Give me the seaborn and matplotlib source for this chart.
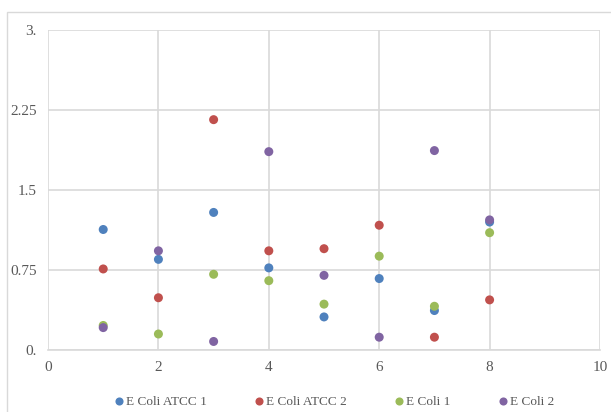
import matplotlib
matplotlib.use("Agg")
import matplotlib.pyplot as plt
from matplotlib.patches import Rectangle
import seaborn as sns
import pandas as pd

x_vals = [1, 2, 3, 4, 5, 6, 7, 8]
ecoli_atcc_1 = [1.13, 0.85, 1.29, 0.77, 0.31, 0.67, 0.37, 1.20]
ecoli_atcc_2 = [0.76, 0.49, 2.16, 0.93, 0.95, 1.17, 0.12, 0.47]
ecoli_1 = [0.23, 0.15, 0.71, 0.65, 0.43, 0.88, 0.41, 1.10]
ecoli_2 = [0.21, 0.93, 0.08, 1.86, 0.70, 0.12, 1.87, 1.22]
series_names = ["E Coli ATCC 1", "E Coli ATCC 2", "E Coli 1", "E Coli 2"]
colors = ["#4F81BD", "#C0504D", "#9BBB59", "#8064A2"]
y_ticks = [0, 0.75, 1.5, 2.25, 3]
y_tick_labels = ["0.", "0.75", "1.5", "2.25", "3."]
x_ticks = [0, 2, 4, 6, 8, 10]

rows = []
for name, vals in zip(series_names, [ecoli_atcc_1, ecoli_atcc_2, ecoli_1, ecoli_2]):
    for xv, yv in zip(x_vals, vals):
        rows.append({"x": xv, "y": yv, "series": name})
df = pd.DataFrame(rows)

sns.set_theme(style="white")
plt.rcParams["font.family"] = ["Liberation Serif", "DejaVu Serif"]

fig = plt.figure(figsize=(6.11, 4.12), dpi=100)
ax = fig.add_axes([0.0786, 0.1505, 0.9034, 0.7765])

sns.scatterplot(data=df, x="x", y="y", hue="series", hue_order=series_names,
                palette=colors, s=42, edgecolor="none", ax=ax, zorder=3, legend=True)

ax.set_xlim(0, 10)
ax.set_ylim(0, 3)
ax.set_xticks(x_ticks)
ax.set_xticklabels([str(t) for t in x_ticks])
ax.set_yticks(y_ticks)
ax.set_yticklabels(y_tick_labels)
ax.grid(True, color="#d9d9d9", linewidth=1.2, zorder=0)
ax.set_axisbelow(True)
for side in ["top", "right", "left"]:
    ax.spines[side].set_visible(False)
ax.spines["bottom"].set_color("#d9d9d9")
ax.spines["bottom"].set_linewidth(1.2)
ax.set_xlabel("")
ax.set_ylabel("")
ax.tick_params(axis="both", length=0, labelsize=11, colors="#595959", pad=8)

handles, labels = ax.get_legend_handles_labels()
ax.get_legend().remove()
fig.legend(handles, labels, loc="center left", bbox_to_anchor=(0.1775, 0.024), ncol=4,
           frameon=False, fontsize=9.5, handletextpad=0.1, handlelength=0.8,
           columnspacing=3.6, markerscale=0.9, labelcolor="#595959",
           borderaxespad=0)

fig.patches.append(Rectangle((0.012, -0.05), 1.2, 1.02, transform=fig.transFigure,
                             fill=False, edgecolor="#d9d9d9", linewidth=1.0))

fig.savefig("out.png", dpi=100)
